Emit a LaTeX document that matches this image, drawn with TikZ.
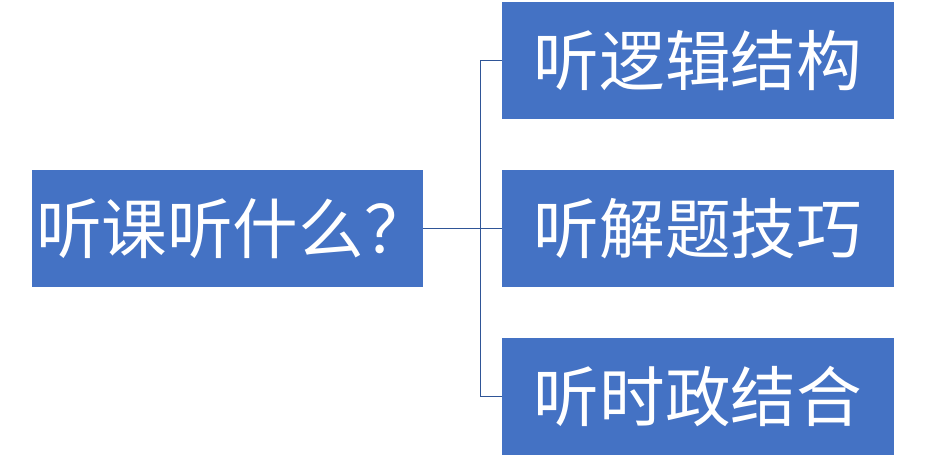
\documentclass[tikz,border=0pt]{standalone}
\usepackage{fontspec}
\newfontfamily\cjk{Noto Sans CJK SC}
\usetikzlibrary{positioning}
\definecolor{boxblue}{RGB}{68,114,196}
\definecolor{lineblue}{RGB}{47,85,151}
\begin{document}
\begin{tikzpicture}[x=0.03cm,y=0.03cm]
\tikzstyle{box}=[fill=boxblue, draw=none, minimum width=11.73cm, minimum height=3.51cm, inner sep=0pt]
\tikzstyle{txt}=[text=white, font=\cjk\fontsize{56}{60}\selectfont, inner sep=0pt]
\useasboundingbox (0,0) rectangle (927,459);
% boxes
\node [box] (q) at (227.5,230.5) {};
\node [box, txt] (a) at (698,398.5) {听逻辑结构};
\node [box, txt] (b) at (698,230.5) {听解题技巧};
\node [box, txt] (c) at (698,62.5) {听时政结合};
\begin{scope}
\clip (q.south west) rectangle (q.north east);
\node [txt, anchor=east] (qt) at (430,230.5) {听课听什么？};
\end{scope}
% connectors
\coordinate (m) at (480,230.5);
\draw [lineblue, line width=0.6pt] (q.east) -- (m);
\draw [lineblue, line width=0.6pt] (m) |- (a.west);
\draw [lineblue, line width=0.6pt] (m) -- (b.west);
\draw [lineblue, line width=0.6pt] (m) |- (c.west);
\end{tikzpicture}
\end{document}
